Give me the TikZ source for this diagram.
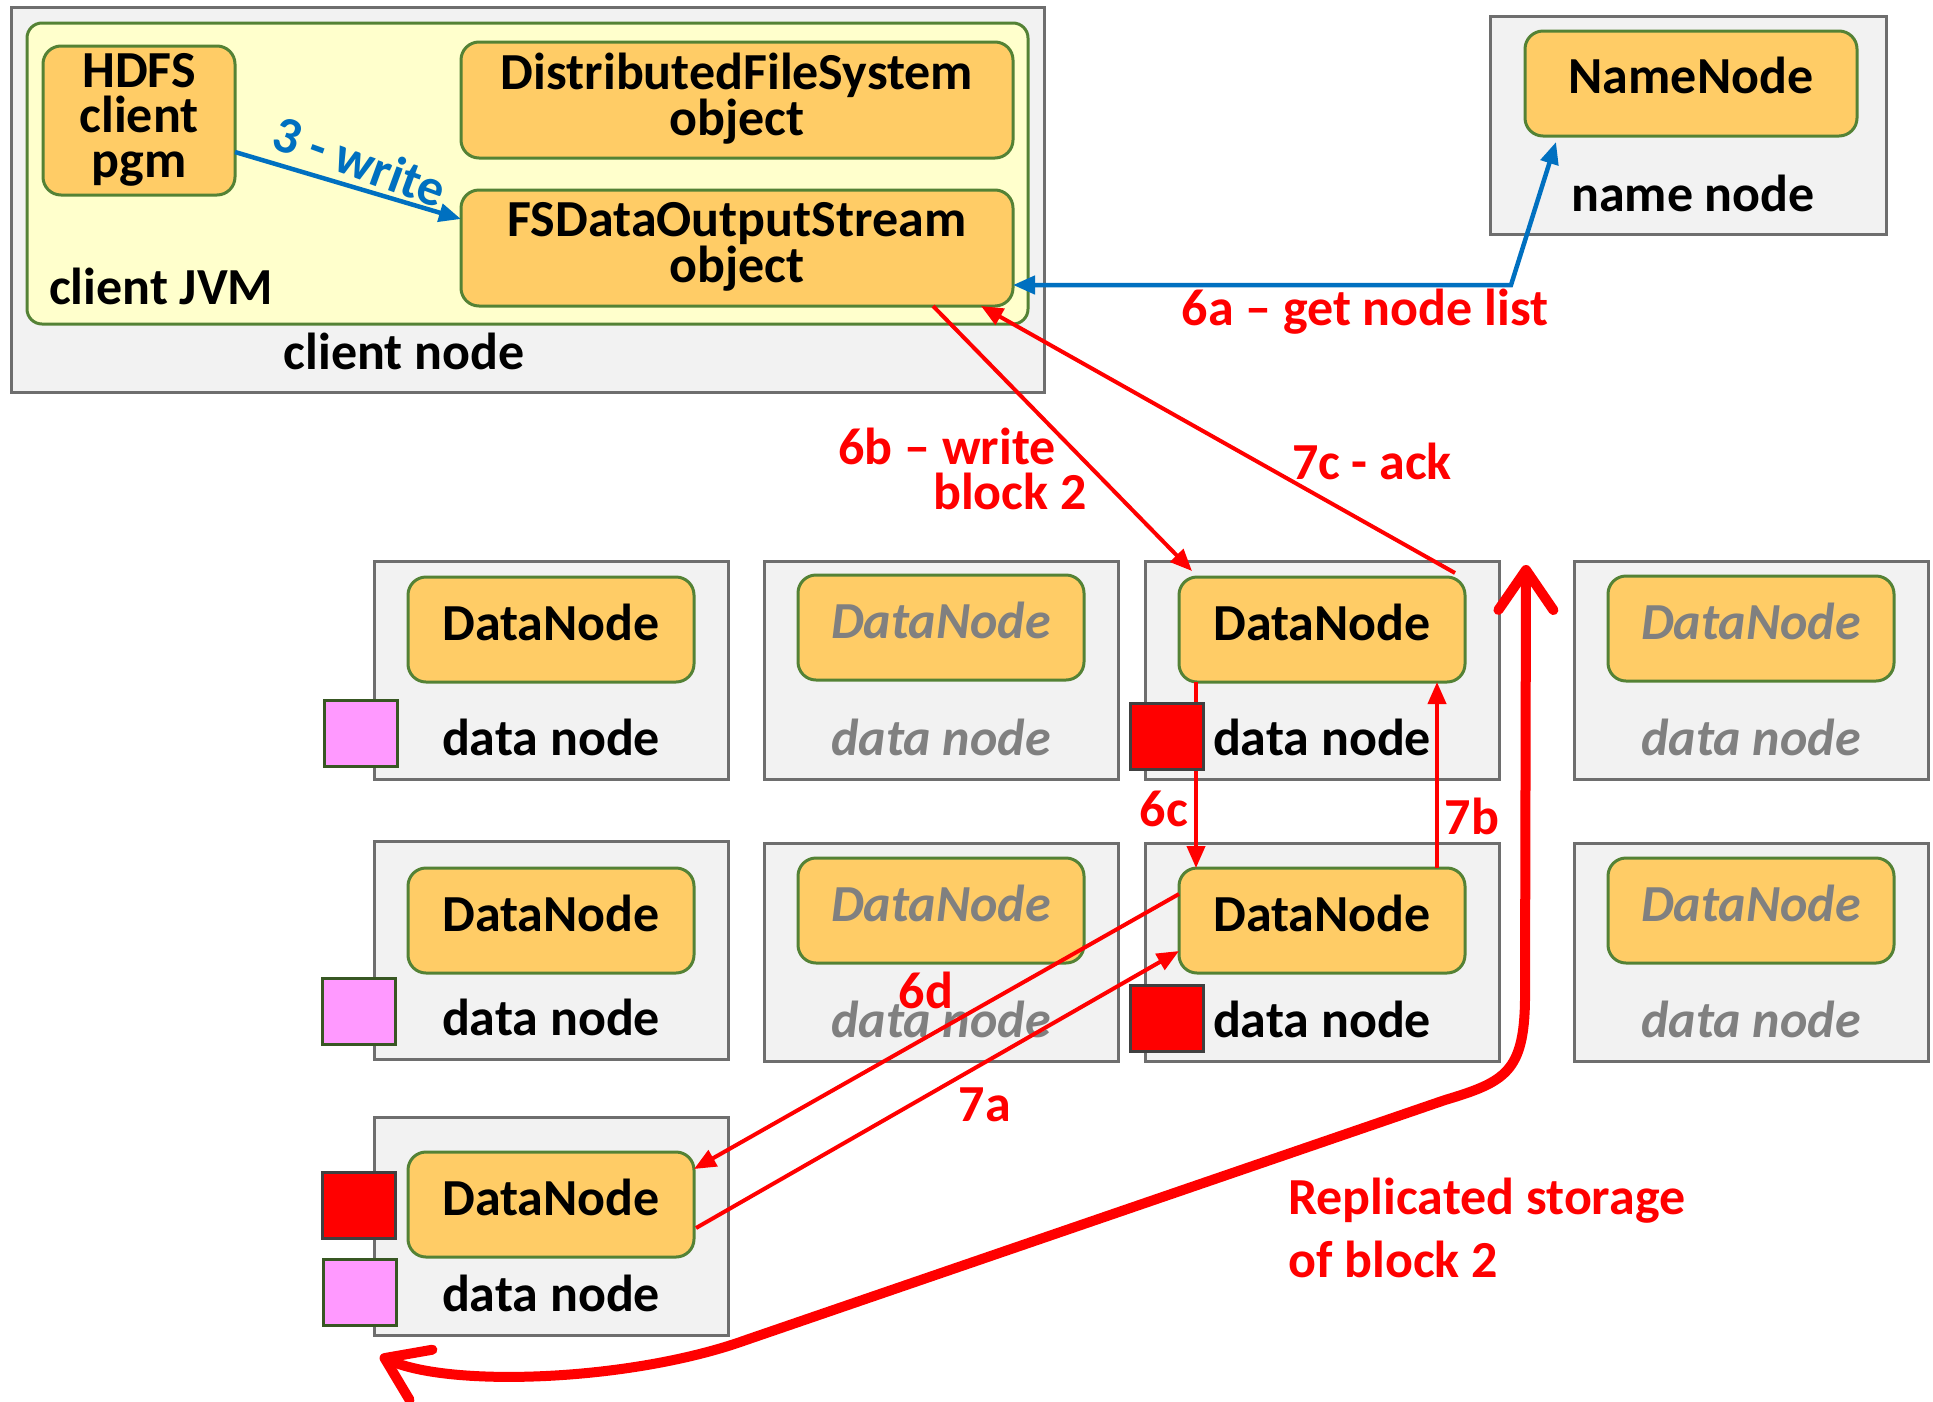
\documentclass[tikz,border=0pt]{standalone}
\usepackage{fontspec}
\setmainfont{Carlito}
\usetikzlibrary{arrows.meta,calc}
\definecolor{boxfill}{HTML}{F2F2F2}
\definecolor{boxgray}{HTML}{6E6E6E}
\definecolor{orng}{HTML}{FFCC66}
\definecolor{grn}{HTML}{548235}
\definecolor{jvmfill}{HTML}{FFFFCC}
\definecolor{blu}{HTML}{0070C0}
\definecolor{pinkfill}{HTML}{FF99FF}
\definecolor{pinkedge}{HTML}{385723}
\definecolor{redsqedge}{HTML}{404040}
\definecolor{gtext}{HTML}{808080}
\tikzset{
  obox/.style={draw=boxgray, fill=boxfill, line width=3pt, inner sep=0pt, outer sep=0pt},
  jvm/.style={draw=grn, fill=jvmfill, line width=3pt, rounded corners=15pt, inner sep=0pt, outer sep=0pt},
  ibox/.style={draw=grn, fill=orng, line width=3pt, rounded corners=18pt, inner sep=0pt, outer sep=0pt},
  txt/.style={font=\fontsize{52}{46}\selectfont\bfseries, inner sep=0pt, align=center},
  gtxt/.style={font=\fontsize{52}{46}\selectfont\bfseries\itshape, text=gtext, inner sep=0pt, align=center},
  rtxt/.style={txt, text=red},
  btxt/.style={txt, text=blu},
  rarr/.style={draw=red, line width=4pt, -{Triangle[length=22pt,width=18pt]}},
  barr/.style={draw=blu, line width=4.5pt, -{Triangle[length=22pt,width=18pt]}},
  sqpink/.style={draw=pinkedge, fill=pinkfill, line width=3pt, minimum width=73pt, minimum height=66pt, inner sep=0pt, outer sep=0pt, anchor=north west},
  sqred/.style={draw=redsqedge, fill=red, line width=3pt, minimum width=73pt, minimum height=66pt, inner sep=0pt, outer sep=0pt, anchor=north west},
}
\newcommand{\dnb}[5]{%
  \node[obox, minimum width=354pt, minimum height=218pt, anchor=north west] (#1) at (#2,#3) {};
  \node[ibox, minimum width=286pt, minimum height=105pt, anchor=north west] (#1i) at ($(#1.north west)+(34,#4)$) {};
  \node[#5] (#1t) at ($(#1i.center)+(0,-7)$) {DataNode};
  \node[#5] (#1l) at ($(#1.north)+(0,176)$) {data node};
}
\begin{document}
\begin{tikzpicture}[x=1pt,y=-1pt]
\useasboundingbox (0,0) rectangle (1933,1401);
\fill[white] (0,0) rectangle (1933,1401);

% client node
\node[obox, minimum width=1033pt, minimum height=385pt, anchor=north west] (cn) at (11,7) {};
\node[jvm, minimum width=1001pt, minimum height=301pt, anchor=north west] (jvm) at (27,23) {};
\node[ibox, minimum width=192pt, minimum height=149pt, anchor=north west] (hdfs) at (43,46) {};
\node[txt, font=\fontsize{52}{45}\selectfont\bfseries] (hdfst) at ($(hdfs.center)+(0,-1)$) {HDFS\\client\\pgm};
\node[ibox, minimum width=552pt, minimum height=116pt, anchor=north west] (dfs) at (461,42) {};
\node[txt] (dfst) at ($(dfs.center)+(0,-1)$) {DistributedFileSystem\\object};
\node[ibox, minimum width=552pt, minimum height=116pt, anchor=north west] (fsd) at (461,190) {};
\node[txt] (fsdt) at ($(fsd.center)+(0,-1)$) {FSDataOutputStream\\object};
\node[txt, anchor=west] (jvmt) at (49,286) {client JVM};
\node[txt] (cnt) at (404,351) {client node};

% name node
\node[obox, minimum width=396pt, minimum height=218pt, anchor=north west] (nn) at (1490,16) {};
\node[ibox, minimum width=332pt, minimum height=105pt, anchor=north west] (nni) at (1525,31) {};
\node[txt] (nnit) at ($(nni.center)+(0,-8)$) {NameNode};
\node[txt] (nnt) at (1693,193) {name node};

% data nodes
\dnb{dnA}{374}{561}{16}{txt}
\dnb{dnB}{764}{561}{14}{gtxt}
\dnb{dnC}{1145}{561}{16}{txt}
\dnb{dnD}{1574}{561}{15}{gtxt}
\dnb{dnE}{374}{841}{27}{txt}
\dnb{dnF}{764}{843}{15}{gtxt}
\dnb{dnG}{1145}{843}{25}{txt}
\dnb{dnH}{1574}{843}{15}{gtxt}
\dnb{dnI}{374}{1117}{35}{txt}

% arrows
\draw[barr] ($(hdfs.north east)+(0,106)$) -- ($(fsd.north west)+(0,29)$);
\node[btxt, rotate=-20] (wr) at (360,161) {3 - write};
\coordinate (bend) at ($(nni.south west)+(-14,149)$);
\draw[barr, {Triangle[length=22pt,width=18pt]}-{Triangle[length=22pt,width=18pt]}] ($(fsd.south east)+(0,-21)$) -- (bend) -- ($(nni.south west)+(31,6)$);
\draw[rarr] ($(fsd.south east)+(-80,0)$) -- ($(dnCi.north west)+(13,-6)$);
\draw[rarr] ($(dnCi.north east)+(-10,-4)$) -- ($(fsd.south east)+(-32,0)$);
\draw[rarr] ($(dnCi.south west)+(17,0)$) -- ($(dnGi.north west)+(17,0)$);
\draw[rarr] ($(dnGi.north west)+(258,0)$) -- ($(dnCi.south west)+(258,0)$);
\draw[rarr] ($(dnGi.north west)+(0,26)$) -- ($(dnIi.north east)+(0,17)$);
\draw[rarr] ($(dnIi.north east)+(2,76)$) -- ($(dnGi.north west)+(0,83)$);

% blocks
\node[sqpink] (sqA) at ($(dnA.north west)+(-50,139)$) {};
\node[sqpink] (sqE) at ($(dnE.north west)+(-52,137)$) {};
\node[sqred] (sqIa) at ($(dnI.north west)+(-52,55)$) {};
\node[sqpink] (sqIb) at ($(dnI.north west)+(-51,142)$) {};
\node[sqred] (sqC) at ($(dnC.north west)+(-15,142)$) {};
\node[sqred] (sqG) at ($(dnG.north west)+(-15,142)$) {};

% big replication arrow
\coordinate (repA) at (380,1356);
\coordinate (repB) at (1526,565);
\draw[red, line width=10pt, line cap=round, line join=round, {Straight Barb[length=40pt,width=55pt,round]}-{Straight Barb[length=40pt,width=55pt,round]}]
  (repA) .. controls (450,1388) and (632,1381) .. (746,1340) -- (1445,1100)
  .. controls (1505,1082) and (1524,1072) .. (1525,1000) -- (repB);

% labels
\node[rtxt] (l6a) at (1365,312) {6a – get node list};
\node[rtxt] (l6b1) at (947,446) {6b – write};
\node[rtxt] (l6b2) at (1010,491) {block 2};
\node[rtxt] (l7c) at (1372,461) {7c - ack};
\node[rtxt] (l6c) at (1164,809) {6c};
\node[rtxt] (l7b) at (1472,816) {7b};
\node[rtxt] (l6d) at (926,990) {6d};
\node[rtxt] (l7a) at (985,1105) {7a};
\node[rtxt, align=left, anchor=west, font=\fontsize{52}{63}\selectfont\bfseries] (lrep) at (1288,1228) {Replicated storage\\of block 2};
\end{tikzpicture}
\end{document}
